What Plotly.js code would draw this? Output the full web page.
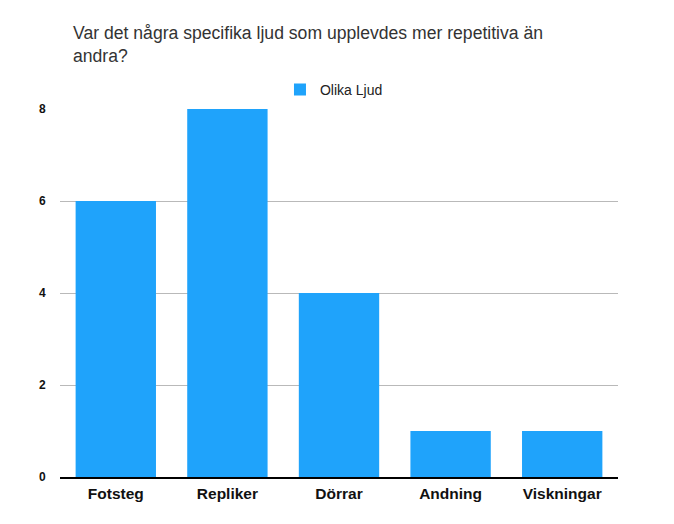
<!DOCTYPE html>
<html>
<head>
<meta charset="utf-8">
<script src="https://cdn.plot.ly/plotly-3.0.1.min.js"></script>
<style>html,body{margin:0;padding:0;background:#fff;}#chart{width:674px;height:524px;}</style>
</head>
<body>
<div id="chart"></div>
<script>
const categories = ["Fotsteg", "Repliker", "Dörrar", "Andning", "Viskningar"];
const values = [6, 8, 4, 1, 1];
const seriesName = "Olika Ljud";
const yTicks = [0, 2, 4, 6, 8];

const trace = {
  type: "bar",
  x: categories,
  y: values,
  name: seriesName,
  marker: {color: "#1fa3fb"},
  showlegend: true,
  hoverinfo: "x+y"
};

const layout = {
  width: 674,
  height: 524,
  margin: {l: 60, r: 56, t: 109, b: 47},
  paper_bgcolor: "#ffffff",
  plot_bgcolor: "#ffffff",
  font: {family: "Liberation Sans, Arial, sans-serif", color: "#222"},
  title: {
    text: "Var det några specifika ljud som upplevdes mer repetitiva än<br>andra?",
    font: {size: 17.6, color: "#333", family: "Liberation Sans, Arial, sans-serif"},
    x: 73/674, xref: "container", xanchor: "left",
    y: 1 - 39/524, yref: "container", yanchor: "middle",
    pad: {t: 0, b: 0}
  },
  showlegend: true,
  legend: {
    orientation: "h",
    x: 0.491, xanchor: "center",
    y: 1.052, yanchor: "middle",
    font: {size: 14, color: "#222"},
    itemwidth: 30
  },
  bargap: 0.28,
  xaxis: {
    type: "category",
    tickfont: {size: 15.5, color: "#111", family: "Liberation Sans, Arial, sans-serif", weight: "bold"},
    showgrid: false,
    showline: true,
    linecolor: "#000",
    linewidth: 1.5,
    ticks: "outside",
    ticklen: 2,
    tickcolor: "rgba(0,0,0,0)"
  },
  yaxis: {
    range: [0, 8],
    tickvals: yTicks,
    ticktext: yTicks.map(String),
    tickfont: {size: 12, color: "#111", family: "Liberation Sans, Arial, sans-serif", weight: "bold"},
    showgrid: true,
    gridcolor: "#b9b9b9",
    gridwidth: 1,
    zeroline: false,
    showline: false,
    ticks: "outside",
    ticklen: 11,
    tickcolor: "rgba(0,0,0,0)"
  }
};

Plotly.newPlot("chart", [trace], layout, {displayModeBar: false, staticPlot: true});
</script>
</body>
</html>
